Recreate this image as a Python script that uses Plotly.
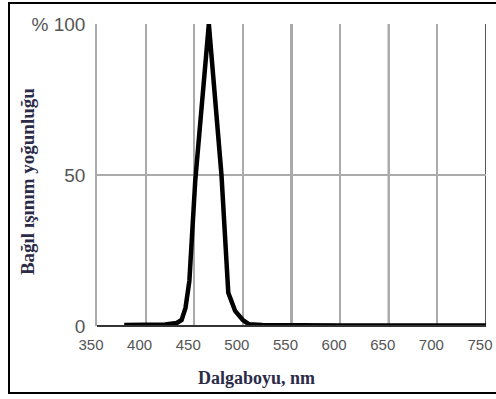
import plotly.graph_objects as go

# Data
wavelength_nm = [378, 400, 420, 432, 437, 441, 445, 451, 465, 478, 485, 492, 500, 506, 520, 600, 700, 750]
relative_intensity = [0.3, 0.4, 0.5, 1, 2, 6, 15, 48, 100, 50, 11, 5, 2, 0.6, 0.3, 0.2, 0.2, 0.2]

x_ticks = [350, 400, 450, 500, 550, 600, 650, 700, 750]
x_tick_labels = ["350", "400", "450", "500", "550", "600", "650", "700", "750"]
y_ticks = [0, 50, 100]
y_tick_labels = ["0", "50", "% 100"]
dark_grid = [550, 650, 750]

x_title = "Dalgaboyu, nm"
y_title = "Bağıl ışınım yoğunluğu"

fig = go.Figure()
fig.add_trace(go.Scatter(
    x=wavelength_nm, y=relative_intensity, mode="lines",
    line=dict(color="black", width=4.5), showlegend=False, hoverinfo="skip",
))

shapes = []
for g in dark_grid:
    shapes.append(dict(type="line", xref="x", yref="paper", x0=g, x1=g, y0=0, y1=1,
                       line=dict(color="#555555", width=2), layer="below"))
# outer frame of the figure (right edge falls outside the picture)
shapes.append(dict(type="rect", xref="paper", yref="paper",
                   x0=-0.2262, x1=1.06, y0=-0.2219, y1=1.0695,
                   line=dict(color="black", width=2)))
# bottom axis line
shapes.append(dict(type="line", xref="paper", yref="paper", x0=0, x1=1, y0=0, y1=0,
                   line=dict(color="#333333", width=2)))

fig.update_layout(
    width=496, height=399,
    margin=dict(l=97, r=10, t=24, b=73, autoexpand=False),
    paper_bgcolor="white", plot_bgcolor="white",
    shapes=shapes,
    xaxis=dict(range=[350, 750], tickvals=x_ticks, ticktext=x_tick_labels,
               showgrid=True, gridcolor="#aaaaaa", gridwidth=1.5,
               showline=False, zeroline=False, ticks="", ticklabelstandoff=8,
               ticklabelshift=-6, ticklabeloverflow="allow", automargin=False,
               tickfont=dict(family="Arial, Liberation Sans", size=15, color="#555555")),
    yaxis=dict(range=[0, 100], tickvals=y_ticks, ticktext=y_tick_labels,
               showgrid=True, gridcolor="#aaaaaa", gridwidth=1.5,
               showline=True, linecolor="#aaaaaa", linewidth=1.5, mirror=False,
               zeroline=False, ticks="", ticklabelstandoff=6, automargin=False,
               tickfont=dict(family="Arial, Liberation Sans", size=19, color="#555555")),
    annotations=[
        dict(text="<b>" + x_title + "</b>", xref="paper", yref="paper", x=0.41, y=-0.172,
             showarrow=False, xanchor="center", yanchor="middle",
             font=dict(family="Liberation Serif, Times New Roman", size=18, color="#2b2b48")),
        dict(text="<b>" + y_title + "</b>", xref="paper", yref="paper", x=-0.177, y=0.477,
             showarrow=False, xanchor="center", yanchor="middle", textangle=-90,
             font=dict(family="Liberation Serif, Times New Roman", size=19, color="#2b2b48")),
    ],
)

fig.write_html("out.html")
